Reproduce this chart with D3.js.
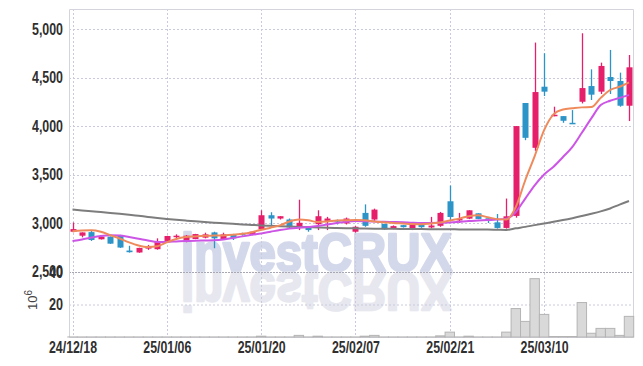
<!DOCTYPE html>
<html>
<head>
<meta charset="utf-8">
<script src="https://cdn.jsdelivr.net/npm/d3@7"></script>
<style>
  body { margin: 0; background: #fff; }
  svg { display: block; }
</style>
</head>
<body>
<div id="chart"></div>
<script>
// trading days, 24/12/18 .. 25/03/21
const dates = [
  "24/12/18","24/12/19","24/12/20","24/12/23","24/12/24","24/12/26","24/12/27","24/12/30",
  "25/01/02","25/01/03","25/01/06","25/01/07","25/01/08","25/01/09","25/01/10","25/01/13",
  "25/01/14","25/01/15","25/01/16","25/01/17","25/01/20","25/01/21","25/01/22","25/01/23",
  "25/01/24","25/01/31","25/02/03","25/02/04","25/02/05","25/02/06","25/02/07","25/02/10",
  "25/02/11","25/02/12","25/02/13","25/02/14","25/02/17","25/02/18","25/02/19","25/02/20",
  "25/02/21","25/02/24","25/02/25","25/02/26","25/02/27","25/02/28","25/03/04","25/03/05",
  "25/03/06","25/03/07","25/03/10","25/03/11","25/03/12","25/03/13","25/03/14","25/03/17",
  "25/03/18","25/03/19","25/03/20","25/03/21"
];
const tickDates = ["24/12/18","25/01/06","25/01/20","25/02/07","25/02/21","25/03/10"];

const open = [2910,2869,2906,2832,2859,2876,2716,2696,2736,2730,2815,2859,2808,2835,2849,2903,2832,2886,2893,2876,
  2934,3080,3046,3036,2961,2968,2988,3022,3029,2995,2910,3104,3036,2991,2940,2978,2940,2991,2954,2971,
  3224,3028,3045,3100,3049,3007,2949,3073,4237,3775,4405,4106,4102,4033,4250,4412,4354,4505,4464,4209];
const high = [3005,2903,2925,2861,2861,2878,2765,2745,2774,2842,2868,2883,2876,2888,2900,2910,2900,2888,2900,2912,
  3131,3111,3070,3046,3240,2968,3131,3063,3036,3056,2968,3192,3148,2991,2975,2980,2991,2995,3063,3114,
  3386,3104,3131,3100,3049,3093,3252,3999,4237,4860,4750,4199,4102,4164,4956,4584,4653,4784,4550,4732];
const low = [2905,2852,2815,2830,2785,2743,2695,2693,2723,2725,2813,2842,2801,2833,2842,2740,2825,2825,2869,2874,
  2930,2961,3036,2944,2927,2910,2927,2927,2985,2985,2900,2961,3022,2930,2935,2953,2927,2950,2944,2961,
  3028,3000,3040,3040,3000,2942,2942,3055,3854,3744,4309,4100,4033,4023,4233,4268,4330,4330,4199,4051];
const close = [2937,2903,2825,2859,2787,2747,2699,2743,2753,2808,2866,2869,2869,2886,2883,2842,2883,2842,2886,2910,
  3080,3046,3070,2954,3002,2927,3070,3046,3015,3046,2961,2971,3138,2934,2968,2957,2991,2957,2974,3104,
  3062,3042,3131,3042,3024,2949,3069,3999,3878,4350,4354,4116,4054,4023,4391,4323,4619,4464,4209,4605];

// volume, millions of shares
const volume = [0.05,0.05,0.05,0.05,0.05,0.05,0.05,0.05,0.05,0.05,0.05,0.05,0.05,0.05,0.05,0.05,0.05,0.05,0.05,0.05,
  0.5,0.05,0.05,0.05,1,0.05,0.5,0.05,0.05,0.05,0.05,0.5,1,0.05,0.05,0.05,0.05,0.05,0.05,0.7,
  3,0.05,0.5,0.05,0.05,0.05,3,17.5,9.6,35.9,13.9,0.3,0.3,0.3,21.2,2.3,5.3,5.3,1,12.7];

// moving averages
const ma5 = [2915,2922,2925,2910,2875,2840,2800,2768,2752,2760,2800,2835,2855,2862,2868,2870,2872,2878,2888,2905,
  2930,2952,2976,3015,3035,3028,3010,3015,3025,3028,3030,3028,3015,3008,3000,2995,2990,2988,2995,3004,
  3025,3045,3070,3080,3060,3040,3035,3165,3441,3690,3958,4120,4170,4182,4192,4195,4290,4371,4405,4450];
const ma20 = [2814,2830,2850,2866,2873,2870,2855,2838,2820,2805,2805,2810,2815,2818,2820,2822,2830,2845,2862,2878,
  2892,2910,2928,2942,2952,2960,2968,2985,3000,3012,3020,3018,3015,3012,3010,3008,3003,3000,3000,3002,
  3005,3012,3020,3025,3030,3035,3045,3114,3252,3389,3500,3580,3680,3785,3930,4078,4216,4260,4290,4319];
const ma60 = [3138,3130,3122,3113,3104,3095,3085,3074,3063,3052,3042,3033,3025,3017,3010,3003,2997,2991,2985,2980,
  2975,2971,2967,2963,2960,2957,2954,2951,2949,2947,2945,2944,2942,2941,2940,2939,2938,2937,2936,2935,
  2935,2934,2934,2933,2932,2930,2928,2945,2960,2978,2995,3012,3030,3050,3072,3095,3120,3150,3190,3227];

const priceTicks = [2500, 3000, 3500, 4000, 4500, 5000];
const volumeTicks = [20, 40];

const W = 643, H = 366;
const pLeft = 69, pRight = 633, pTop = 9, pMid = 272, pBottom = 337;
const upColor = "#e61f6b", downColor = "#2d94c8";
const tickFont = "'Liberation Sans', Arial, sans-serif";

const svg = d3.select("#chart").append("svg")
    .attr("width", W)
    .attr("height", H);

const x = d3.scalePoint().domain(dates).range([72.5, 629]);
const y = d3.scaleLinear().domain([2500, 5000]).range([271.5, 29]);
const yv = d3.scaleLinear().domain([0, 40]).range([pBottom, pMid]);

// watermark + reflection
const wm = svg.append("g").attr("font-family", "'Liberation Sans', Arial, sans-serif")
    .attr("font-weight", "bold").attr("font-size", 53)
    .attr("stroke-width", 2.5).attr("stroke-linejoin", "round");
wm.append("text")
    .attr("x", 181).attr("y", 271)
    .attr("textLength", 271).attr("lengthAdjust", "spacingAndGlyphs")
    .attr("fill", "#d3d8ea").attr("stroke", "#d3d8ea")
    .text("investCRUX");
wm.append("text")
    .attr("transform", "translate(0,544) scale(1,-1)")
    .attr("x", 181).attr("y", 271)
    .attr("textLength", 271).attr("lengthAdjust", "spacingAndGlyphs")
    .attr("fill", "#e7e8ef").attr("stroke", "#e7e8ef")
    .text("investCRUX");

// grid
const grid = svg.append("g")
    .attr("stroke", "#c9cadc").attr("stroke-width", 1).attr("stroke-dasharray", "2,2");
grid.selectAll(".hp")
  .data(priceTicks.filter(d => d > 2500))
  .enter().append("line")
    .attr("x1", pLeft).attr("x2", pRight)
    .attr("y1", d => Math.round(y(d)) + 0.5).attr("y2", d => Math.round(y(d)) + 0.5);
grid.append("line")
    .attr("x1", pLeft).attr("x2", pRight)
    .attr("y1", yv(20) + 0.5).attr("y2", yv(20) + 0.5);
grid.selectAll(".vx")
  .data(tickDates)
  .enter().append("line")
    .attr("x1", d => Math.round(x(d)) + 0.5).attr("x2", d => Math.round(x(d)) + 0.5)
    .attr("y1", pTop).attr("y2", pBottom);

// panel divider
svg.append("line")
    .attr("x1", pLeft).attr("x2", pRight)
    .attr("y1", pMid + 0.5).attr("y2", pMid + 0.5)
    .attr("stroke", "#a8a8b4").attr("stroke-dasharray", "2,1");

// frame
svg.append("path")
    .attr("d", `M${pLeft + 0.5},${pTop + 0.5}H${pRight + 0.5}V${pBottom + 0.5}H${pLeft + 0.5}Z`)
    .attr("fill", "none").attr("stroke", "#d4d4dc");

// volume bars
const bw = x.step();
svg.append("g").selectAll("rect")
  .data(dates)
  .enter().append("rect")
    .attr("x", d => x(d) - bw / 2)
    .attr("width", bw)
    .attr("y", (d, i) => yv(volume[i]))
    .attr("height", (d, i) => pBottom - yv(volume[i]))
    .attr("fill", "#d9d9d9")
    .attr("stroke", "#b4b4b4")
    .attr("stroke-width", 1);

// candles
const candles = svg.append("g").selectAll("g")
  .data(dates)
  .enter().append("g")
    .attr("fill", (d, i) => close[i] >= open[i] ? upColor : downColor)
    .attr("stroke", (d, i) => close[i] >= open[i] ? upColor : downColor);
candles.append("line")
    .attr("x1", d => Math.round(x(d)) + 0.5).attr("x2", d => Math.round(x(d)) + 0.5)
    .attr("y1", (d, i) => y(high[i])).attr("y2", (d, i) => y(low[i]))
    .attr("stroke-width", 1.3);
candles.append("rect")
    .attr("x", d => Math.round(x(d)) - 2.5)
    .attr("width", 6)
    .attr("y", (d, i) => y(Math.max(open[i], close[i])))
    .attr("height", (d, i) => Math.max(1.5, Math.abs(y(open[i]) - y(close[i]))))
    .attr("stroke", "none");

// moving averages
const line = vals => d3.line()
    .x(d => x(d))
    .y((d, i) => y(vals[i]))
    .curve(d3.curveMonotoneX)(dates);
svg.append("path").attr("d", line(ma60))
    .attr("fill", "none").attr("stroke", "#7d7d7d").attr("stroke-width", 2);
svg.append("path").attr("d", line(ma20))
    .attr("fill", "none").attr("stroke", "#cc55e6").attr("stroke-width", 2);
svg.append("path").attr("d", line(ma5))
    .attr("fill", "none").attr("stroke", "#ee8a5c").attr("stroke-width", 2);

// axes (condensed labels)
const yAxis = svg.append("g")
    .attr("transform", `translate(${pLeft},0)`)
    .call(d3.axisLeft(y).tickValues(priceTicks).tickFormat(d3.format(",")).tickSize(0).tickPadding(6));
const vAxis = svg.append("g")
    .attr("transform", `translate(${pLeft},0)`)
    .call(d3.axisLeft(yv).tickValues(volumeTicks).tickSize(0).tickPadding(6));
const xAxis = svg.append("g")
    .attr("transform", `translate(0,${pBottom})`)
    .call(d3.axisBottom(x).tickValues(tickDates).tickSize(0).tickPadding(5));
[yAxis, vAxis, xAxis].forEach(a => {
  a.select(".domain").remove();
  a.selectAll("text")
    .attr("font-family", tickFont)
    .attr("font-size", 16)
    .attr("font-weight", "bold")
    .attr("fill", "#2f2f2f")
    .attr("lengthAdjust", "spacingAndGlyphs");
});
yAxis.selectAll("text").attr("textLength", 31);
vAxis.selectAll("text").attr("textLength", 14);
xAxis.selectAll("text").attr("textLength", 48);

// volume unit
const unit = svg.append("text")
    .attr("transform", "translate(37,300) rotate(-90)")
    .attr("text-anchor", "middle")
    .attr("font-family", "'Liberation Sans', Arial, sans-serif")
    .attr("font-size", 13)
    .attr("fill", "#444");
unit.append("tspan").text("10");
unit.append("tspan").attr("dy", -5).attr("font-size", 10).text("6");
</script>
</body>
</html>
